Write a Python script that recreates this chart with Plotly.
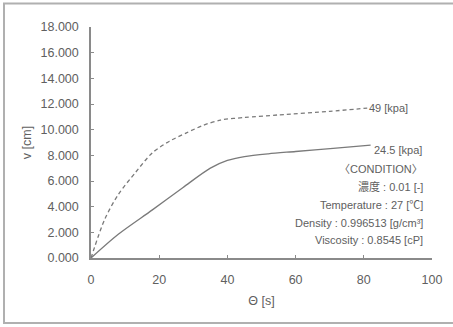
import plotly.graph_objects as go

# 49 kPa series (dashed)
x_49 = [0, 4, 8, 13, 18, 23, 28, 33, 38, 45, 55, 70, 81]
v_49 = [0, 3.0, 4.95, 6.65, 8.2, 9.1, 9.75, 10.35, 10.75, 10.95, 11.15, 11.43, 11.68]
# 24.5 kPa series (solid)
x_245 = [0, 8, 18, 27, 35, 40, 45, 52, 60, 71, 82]
v_245 = [0, 1.85, 3.75, 5.5, 7.0, 7.6, 7.9, 8.12, 8.3, 8.55, 8.8]

label_49 = "49 [kpa]"
label_245 = "24.5 [kpa]"
condition_lines = [
    "〈CONDITION〉",
    "濃度 : 0.01 [-]",
    "Temperature : 27 [℃]",
    "Density : 0.996513 [g/cm³]",
    "Viscosity : 0.8545 [cP]",
]
condition_y = [6.96, 5.56, 4.15, 2.75, 1.42]

x_ticks = [0, 20, 40, 60, 80, 100]
y_ticks = [0, 2, 4, 6, 8, 10, 12, 14, 16, 18]

FONT = "Liberation Sans, Arial, Noto Sans CJK KR, sans-serif"
TXT = "#606060"
LINE = "#7a7a7a"

L, R, T, B = 91, 21, 27, 69
PW, PH = 453 - L - R, 327 - T - B

fig = go.Figure()
fig.add_trace(go.Scatter(x=x_49, y=v_49, mode="lines",
                         line=dict(color=LINE, width=1.3, dash="4px,3px", shape="spline", smoothing=0.8),
                         showlegend=False, hoverinfo="skip"))
fig.add_trace(go.Scatter(x=x_245, y=v_245, mode="lines",
                         line=dict(color=LINE, width=1.3, shape="spline", smoothing=0.8),
                         showlegend=False, hoverinfo="skip"))

ann = [
    dict(x=x_49[-1], y=v_49[-1], text=label_49, xanchor="left", yanchor="middle",
         showarrow=False, xshift=0, font=dict(size=11, color=TXT, family=FONT)),
    dict(x=x_245[-1], y=v_245[-1], text=label_245, xanchor="left", yanchor="middle",
         showarrow=False, xshift=1, yshift=-5, font=dict(size=11, color=TXT, family=FONT)),
]
for t, yy in zip(condition_lines, condition_y):
    ann.append(dict(x=97.8, y=yy, text=t, xanchor="right", yanchor="middle", showarrow=False,
                    font=dict(size=11, color=TXT, family=FONT)))

fig.update_layout(
    width=453, height=327,
    margin=dict(l=L, r=R, t=T, b=B, autoexpand=False),
    paper_bgcolor="white", plot_bgcolor="white",
    font=dict(family=FONT, size=12, color=TXT),
    annotations=ann,
    shapes=[dict(type="rect", xref="paper", yref="paper",
                 x0=(4 - L) / PW, x1=(462 - L) / PW,
                 y0=(327 - B - 323) / PH, y1=(327 - B - 3.5) / PH,
                 line=dict(color="#b0b0b0", width=2), layer="below")],
)
fig.update_xaxes(range=[0, 100], tickvals=x_ticks, showgrid=False, zeroline=False, automargin=False,
                 showline=True, linecolor="#8a8a8a", linewidth=1.5,
                 ticks="inside", ticklen=3, tickcolor="#8a8a8a", ticklabelstandoff=9,
                 tickfont=dict(size=12.5, color=TXT),
                 title=dict(text="Θ [s]", font=dict(size=12.5, color=TXT), standoff=10))
fig.update_yaxes(range=[0, 18], tickvals=y_ticks, tickformat=".3f", showgrid=False, zeroline=False,
                 automargin=False,
                 showline=True, linecolor="#8a8a8a", linewidth=1.5,
                 ticks="inside", ticklen=3, tickcolor="#8a8a8a", ticklabelstandoff=8,
                 tickfont=dict(size=12.5, color=TXT),
                 title=dict(text="v [cm]", font=dict(size=12.5, color=TXT), standoff=6))

fig.write_html("out.html", config={"displayModeBar": False},
               post_script="document.body.style.margin='0';document.body.style.overflow='hidden';")
